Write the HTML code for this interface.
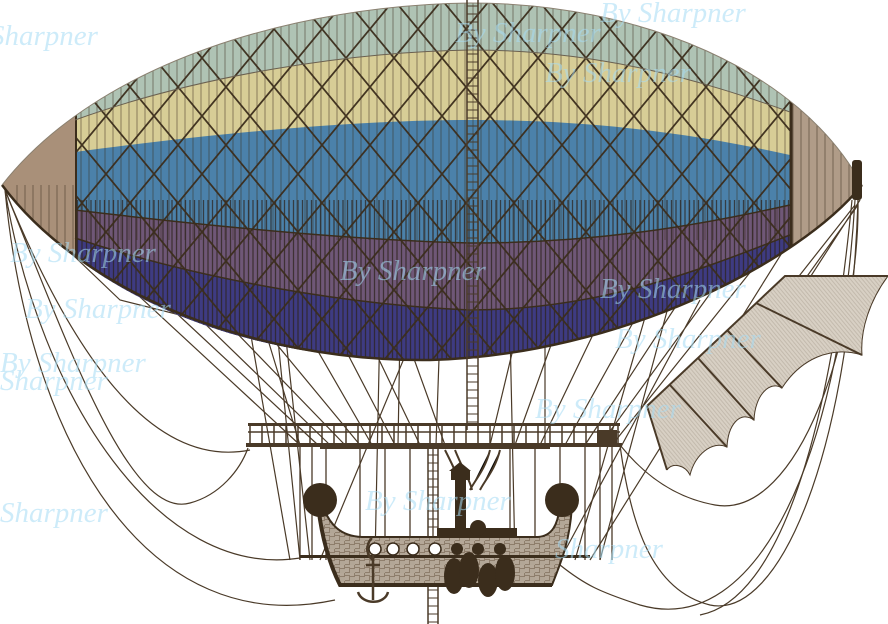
<!DOCTYPE html>
<html><head><meta charset="utf-8"><style>
html,body{margin:0;padding:0;background:#fff;}
svg{display:block}
.wm{font-family:"Liberation Serif",serif;font-style:italic;font-size:29px;fill:#a6dcf5;opacity:.55}
</style></head><body>
<svg width="888" height="624" viewBox="0 0 888 624" xmlns="http://www.w3.org/2000/svg">
<defs>
<clipPath id="env"><path d="M2,185 C100,60 300,5 470,3 C640,3 800,70 862,185 C800,262 620,355 430,360 C250,362 90,300 2,185 Z"/></clipPath>
<pattern id="str" width="8" height="10" patternUnits="userSpaceOnUse"><line x1="1" y1="0" x2="1" y2="10" stroke="#3a2c1c" stroke-width="1" opacity=".5"/></pattern>
<pattern id="str2" width="4.5" height="10" patternUnits="userSpaceOnUse"><line x1="1" y1="0" x2="1" y2="10" stroke="#2a2018" stroke-width="1.3" opacity=".7"/></pattern>
<pattern id="lat" width="48" height="58" patternUnits="userSpaceOnUse" x="10" y="0"><path d="M0,0 L48,58 M48,0 L0,58" stroke="#3b2d1c" stroke-width="1.8" fill="none"/></pattern>
<pattern id="weave" width="10" height="8" patternUnits="userSpaceOnUse"><rect width="10" height="8" fill="#8e7e6c"/><path d="M0,2 H5 M0,4 H5 M5,6 H10 M6,0 V4 M8,0 V4 M1,5 V8 M3,5 V8" stroke="#f0e8dc" stroke-width=".8"/></pattern>
<pattern id="sailh" width="3" height="10" patternUnits="userSpaceOnUse" patternTransform="rotate(-40)"><line x1="1" y1="0" x2="1" y2="10" stroke="#9a8e80" stroke-width=".8" opacity=".6"/></pattern>
</defs>

<g stroke="#4a3a28" stroke-width="1.2" fill="none">
<path d="M100,260 L300,445 M130,270 L318,445 M165,285 L330,445 M200,295 L345,445 M240,300 L360,445 M275,310 L300,560 M300,320 L372,445 M330,320 L395,445 M360,320 L420,445 M400,320 L445,445 M420,320 L320,560 M520,320 L490,445 M560,320 L515,445 M600,320 L540,445 M640,310 L565,445 M680,300 L585,445 M720,280 L600,445 M760,260 L612,445 M790,240 L590,560 M700,300 L560,560"/>
<path d="M250,330 L290,560 M265,330 L300,445 M285,330 L310,560 M650,300 L575,560 M670,300 L600,560 M380,320 L375,560 M400,330 L398,445 M440,330 L436,445 M510,330 L515,560 M545,330 L545,445"/>
<path d="M5,190 C70,350 150,470 250,450"/>
<path d="M5,190 C70,350 130,520 190,503 C220,495 240,470 248,448"/>
<path d="M5,190 C40,400 160,580 300,558"/>
<path d="M5,190 C30,450 150,640 335,600"/>
<path d="M5,190 L120,300 L240,330"/>
<path d="M858,200 C860,330 800,520 715,505 C670,497 640,470 620,445"/>
<path d="M858,200 C850,450 780,620 710,605 C650,590 630,520 620,445"/>
<path d="M855,200 C840,450 760,640 640,605 C600,592 585,585 560,565"/>
<path d="M852,200 C830,430 780,600 700,615"/>
<path d="M860,200 L705,440 M858,205 L690,440 M855,205 L670,440"/>
</g>
<g stroke="#4a3a28" stroke-width="1.3">
<path d="M300,445V560 M312,445V560 M326,445V560 M360,445V545 M385,445V545 M410,445V545 M433,445V545 M510,445V545 M535,445V545 M560,445V545 M585,445V560 M600,445V560 M612,445V560"/>
</g>

<g clip-path="url(#env)">
<rect x="0" y="0" width="888" height="400" fill="#afc3b4"/>
<path d="M75,120 C200,75 350,52 470,50 C600,50 700,80 790,112 L790,400 L75,400 Z" fill="#d7cd96"/>
<path d="M75,152 C200,135 350,120 470,120 C600,120 700,135 790,155 L790,400 L75,400 Z" fill="#4b81aa"/>
<path d="M75,210 C200,225 350,240 470,243 C600,243 700,225 790,205 L790,400 L75,400 Z" fill="#6f5777"/>
<path d="M75,238 C200,280 350,305 470,310 C600,310 700,270 790,235 L790,400 L75,400 Z" fill="#3e3b82"/>
<rect x="75" y="0" width="715" height="240" fill="url(#str)"/>
<rect x="75" y="200" width="715" height="200" fill="url(#str2)"/>
<rect x="75" y="0" width="715" height="400" fill="url(#lat)" opacity=".95"/>
<rect x="0" y="0" width="76" height="400" fill="#a99079"/>
<rect x="10" y="185" width="66" height="200" fill="url(#str)"/>
<rect x="790" y="0" width="80" height="400" fill="#b09c88"/>
<rect x="790" y="0" width="80" height="400" fill="url(#str)"/>
<line x1="76" y1="0" x2="76" y2="400" stroke="#3b2d1c" stroke-width="2"/>
<line x1="791" y1="0" x2="791" y2="400" stroke="#3b2d1c" stroke-width="3"/>
<path d="M75,120 C200,75 350,52 470,50 C600,50 700,80 790,112" stroke="#6a6050" fill="none" stroke-width="1"/>
<path d="M75,210 C200,225 350,240 470,243 C600,243 700,225 790,205" stroke="#3b2d1c" fill="none" stroke-width="1.5"/>
<path d="M75,238 C200,280 350,305 470,310 C600,310 700,270 790,235" stroke="#3b2d1c" fill="none" stroke-width="1.5"/>
</g>
<path d="M2,185 C80,290 250,362 430,360 C620,355 800,262 862,185" stroke="#3b2d1c" stroke-width="2.5" fill="none"/>
<path d="M2,185 C100,60 300,5 470,3 C640,3 800,70 862,185" stroke="#8a8070" stroke-width="1" fill="none"/>
<rect x="852" y="160" width="10" height="40" rx="3" fill="#3b2d1c"/>

<g stroke="#4a3a28" stroke-width="1.5">
<line x1="467" y1="0" x2="467" y2="430"/><line x1="478" y1="0" x2="478" y2="430"/>
<line x1="428" y1="445" x2="428" y2="624"/><line x1="438" y1="445" x2="438" y2="624"/>
</g>
<g stroke="#4a3a28" stroke-width="1">
<path d="M467,6H478 M467,14H478 M467,22H478 M467,30H478 M467,38H478 M467,46H478 M467,54H478 M467,62H478 M467,70H478 M467,78H478 M467,86H478 M467,94H478 M467,102H478 M467,110H478 M467,118H478 M467,126H478 M467,134H478 M467,142H478 M467,150H478 M467,158H478 M467,166H478 M467,174H478 M467,182H478 M467,190H478 M467,198H478 M467,206H478 M467,214H478 M467,222H478 M467,230H478 M467,238H478 M467,246H478 M467,254H478 M467,262H478 M467,270H478 M467,278H478 M467,286H478 M467,294H478 M467,302H478 M467,310H478 M467,318H478 M467,326H478 M467,334H478 M467,342H478 M467,350H478 M467,358H478 M467,366H478 M467,374H478 M467,382H478 M467,390H478 M467,398H478 M467,406H478 M467,414H478 M467,422H478"/>
<path d="M428,455H438 M428,463H438 M428,471H438 M428,479H438 M428,487H438 M428,495H438 M428,503H438 M428,511H438 M428,519H438 M428,527H438 M428,590H438 M428,598H438 M428,606H438 M428,614H438 M428,622H438"/>
<path d="M445,450 C455,470 460,480 462,490 M455,450 C463,470 470,480 472,490 M490,450 C485,470 475,480 470,490 M500,450 C495,470 485,480 480,490" stroke-width="2"/>
</g>

<g fill="#4a3a28">
<rect x="248" y="423" width="372" height="3"/>
<rect x="246" y="443" width="376" height="4"/>
<rect x="320" y="446" width="230" height="3"/>
<rect x="597" y="430" width="20" height="13"/>
</g>
<g stroke="#4a3a28" stroke-width="1.5">
<path d="M250,424V445 M262,424V445 M274,424V445 M286,424V445 M298,424V445 M310,424V445 M322,424V445 M334,424V445 M346,424V445 M358,424V445 M370,424V445 M382,424V445 M394,424V445 M406,424V445 M418,424V445 M430,424V445 M442,424V445 M454,424V445 M466,424V445 M478,424V445 M490,424V445 M502,424V445 M514,424V445 M526,424V445 M538,424V445 M550,424V445 M562,424V445 M574,424V445 M586,424V445 M598,424V445 M610,424V445 M618,424V445"/>
<line x1="248" y1="432" x2="620" y2="432"/>
</g>

<path d="M322,505 C330,525 340,536 362,537 L538,537 C552,536 558,525 560,505 L572,505 C570,540 562,560 552,585 L340,585 C330,565 322,540 318,505 Z" fill="url(#weave)" stroke="#3b2d1c" stroke-width="2"/>
<path d="M318,505 C322,540 330,565 340,585 L552,585" stroke="#3b2d1c" stroke-width="4" fill="none"/>
<circle cx="320" cy="500" r="17" fill="#3b2d1c"/>
<circle cx="562" cy="500" r="17" fill="#3b2d1c"/>
<rect x="437" y="528" width="80" height="9" fill="#3b2d1c"/>
<rect x="455" y="478" width="11" height="52" fill="#3b2d1c"/>
<rect x="451" y="470" width="19" height="10" fill="#3b2d1c"/>
<path d="M449,471 L460,462 L471,471 Z" fill="#3b2d1c"/>
<circle cx="478" cy="528" r="8" fill="#3b2d1c"/>
<rect x="300" y="555" width="290" height="3" fill="#3b2d1c"/>
<g fill="#fff" stroke="#3b2d1c" stroke-width="1.5">
<circle cx="375" cy="549" r="6"/><circle cx="393" cy="549" r="6"/><circle cx="413" cy="549" r="6"/><circle cx="435" cy="549" r="6"/>
</g>
<g fill="#3b2d1c">
<circle cx="457" cy="549" r="6"/><circle cx="478" cy="549" r="6"/><circle cx="500" cy="549" r="6"/>
<ellipse cx="454" cy="576" rx="10" ry="18"/><ellipse cx="469" cy="570" rx="10" ry="18"/><ellipse cx="488" cy="580" rx="10" ry="17"/><ellipse cx="505" cy="573" rx="10" ry="18"/>
</g>
<g stroke="#4a3a28" stroke-width="2.5" fill="none">
<path d="M372,538 C365,545 366,555 373,560"/>
<line x1="373" y1="555" x2="373" y2="600"/>
<path d="M358,592 C362,605 385,605 388,592"/>
<line x1="366" y1="565" x2="380" y2="565"/>
</g>

<path d="M647,406 L785,276 L888,276 C870,300 860,330 862,355 C830,345 800,360 782,388 C770,380 755,395 754,420 C740,410 728,425 727,447 C712,440 695,455 690,475 C685,465 672,462 667,470 Z" fill="#d8d0c4"/>
<path d="M647,406 L785,276 L888,276 C870,300 860,330 862,355 C830,345 800,360 782,388 C770,380 755,395 754,420 C740,410 728,425 727,447 C712,440 695,455 690,475 C685,465 672,462 667,470 Z" fill="url(#sailh)" opacity=".7"/>
<g stroke="#4a3a28" fill="none">
<path d="M647,406 L785,276 L888,276" stroke-width="2"/>
<path d="M647,406 L667,470 M670,385 L727,447 M698,358 L754,420 M727,330 L782,388 M756,303 L862,355" stroke-width="2"/>
<path d="M888,276 C870,300 860,330 862,355 C830,345 800,360 782,388 C770,380 755,395 754,420 C740,410 728,425 727,447 C712,440 695,455 690,475 C685,465 672,462 667,470" stroke-width="1"/>
</g>

<g class="wm">
<text x="600" y="22">By Sharpner</text>
<text x="-10" y="45">Sharpner</text>
<text x="455" y="42">By Sharpner</text>
<text x="545" y="82">By Sharpner</text>
<text x="10" y="262">By Sharpner</text>
<text x="340" y="280">By Sharpner</text>
<text x="600" y="298">By Sharpner</text>
<text x="25" y="318">By Sharpner</text>
<text x="0" y="372">By Sharpner</text>
<text x="0" y="390">Sharpner</text>
<text x="615" y="348">By Sharpner</text>
<text x="535" y="418">By Sharpner</text>
<text x="365" y="510">By Sharpner</text>
<text x="555" y="558">Sharpner</text>
<text x="0" y="522">Sharpner</text>
</g>
</svg>
</body></html>
